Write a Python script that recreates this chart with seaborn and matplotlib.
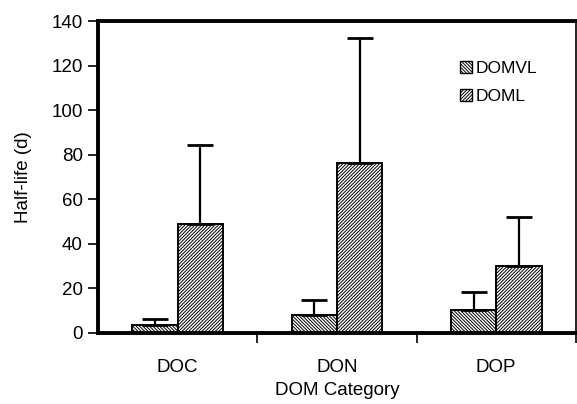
import matplotlib
matplotlib.use("Agg")
import matplotlib.pyplot as plt
import seaborn as sns
import pandas as pd
import numpy as np
from matplotlib.patches import Patch

categories = ["DOC", "DON", "DOP"]
series = ["DOMVL", "DOML"]
domvl = [3.6, 8.1, 10.3]
doml = [48.9, 76.3, 30.0]
domvl_err = [2.7, 6.7, 8.1]
doml_err = [35.6, 56.0, 22.2]

sns.set_theme(style="white")
plt.rcParams['font.family'] = ['Liberation Sans', 'DejaVu Sans']
plt.rcParams['hatch.linewidth'] = 0.7
plt.rcParams['text.color'] = 'black'
plt.rcParams['axes.labelcolor'] = 'black'
plt.rcParams['xtick.color'] = 'black'
plt.rcParams['ytick.color'] = 'black'

df = pd.DataFrame({
    "cat": categories * 2,
    "series": [series[0]] * 3 + [series[1]] * 3,
    "val": domvl + doml,
    "err": domvl_err + doml_err,
})

fig = plt.figure(figsize=(5.77, 4.04), dpi=100)
ax = fig.add_axes([0.170, 0.176, 0.828, 0.772])

sns.barplot(data=df, x="cat", y="val", hue="series", order=categories,
            hue_order=series, errorbar=None, width=0.57, ax=ax,
            palette=["white", "white"], edgecolor="black", linewidth=1.4,
            legend=False)

hatches = {series[0]: "\\" * 10, series[1]: "/" * 10}
bars = [p for p in ax.patches]
for i, s in enumerate(series):
    sub = df[df.series == s]
    for j, c in enumerate(categories):
        p = bars[i * 3 + j]
        p.set_hatch(hatches[s])
        xc = p.get_x() + p.get_width() / 2
        row = sub[sub.cat == c].iloc[0]
        ax.errorbar([xc], [row.val], yerr=[[0], [row.err]], fmt="none",
                    ecolor="black", elinewidth=1.6, capsize=9.5, capthick=2,
                    zorder=1)

ax.set_ylim(0, 140)
ax.set_xlim(-0.5, 2.5)
ax.set_yticks(np.arange(0, 141, 20))
ax.tick_params(axis="y", which="major", direction="out", length=7, width=1.2,
               labelsize=13.5, left=True, color="black", labelcolor="black", pad=4)
ax.tick_params(axis="x", which="major", length=0, labelsize=13.5, pad=19,
               labelcolor="black")
ax.set_xticks([0.5, 1.5, 2.5], minor=True)
ax.tick_params(axis="x", which="minor", direction="out", length=7, width=1.2,
               bottom=True, color="black")

for side in ["left", "bottom", "top"]:
    ax.spines[side].set_linewidth(2.8)
    ax.spines[side].set_color("black")
ax.spines["right"].set_linewidth(1.2)
ax.spines["right"].set_color("black")

ax.set_xlabel("DOM Category", fontsize=13.5, labelpad=4, color="black")
ax.set_ylabel("Half-life (d)", fontsize=13.5, labelpad=14, color="black")

handles = [Patch(facecolor="white", edgecolor="black", hatch=hatches[s], label=s)
           for s in series]
leg = ax.legend(handles=handles, loc="upper left", bbox_to_anchor=(0.74, 0.90),
                frameon=False, fontsize=12.5, handlelength=0.7, handleheight=0.7,
                handletextpad=0.2, labelspacing=0.75, borderpad=0)
for t in leg.get_texts():
    t.set_color("black")

fig.savefig("out.png", dpi=100, facecolor="white")
